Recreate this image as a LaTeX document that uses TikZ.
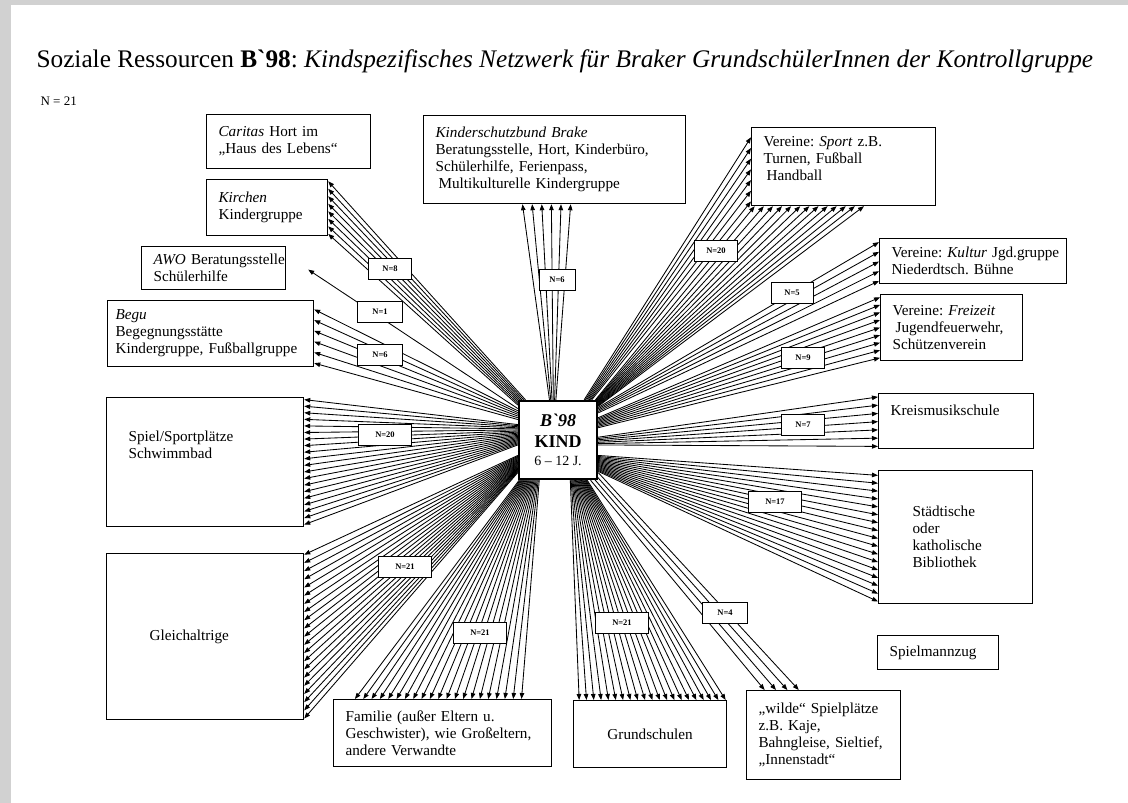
\documentclass[tikz,border=0pt]{standalone}
\usepackage{fontspec}
\setmainfont{Liberation Serif}
\usetikzlibrary{arrows.meta,calc,backgrounds}
\frenchspacing
\hyphenpenalty=10000

\definecolor{framegray}{gray}{0.82}

% N rays from a stretch of the child box to a stretch of one edge of a target box
\newcommand\fan[8]{%
  \foreach \k in {1,...,#1}{%
    \pgfmathsetmacro\fr{(\k-1)/(#1-1)}%
    \pgfmathsetmacro\ft{#7+(#8-#7)*\fr}%
    \draw[ray] ($(kind.#2)!\fr!(kind.#3)$) -- ($(#4.#5)!\ft!(#4.#6)$);
  }%
}

\begin{document}
\begin{tikzpicture}
            [x=1pt, y=-1pt,
             box/.style={draw, fill=white, line width=1.2pt, anchor=north west, align=left,
               inner xsep=12pt, inner ysep=2pt, font=\fontsize{15.2}{17}\selectfont},
             count/.style={draw, fill=white, line width=0.9pt, minimum width=43pt,
               minimum height=21pt, inner sep=1pt, font=\fontsize{8.5}{9}\selectfont\bfseries},
             ray/.style={line width=0.85pt, -{Triangle[length=6pt,width=4.5pt]}}]
            \useasboundingbox (0,0) rectangle (1128,803);

            % Title and sample size
            \node[anchor=base west, font=\fontsize{25.3}{30}\selectfont] (title) at (33,67)
              {Soziale Ressourcen \textbf{B\textasciigrave 98}: \textit{Kindspezifisches Netzwerk für Braker GrundschülerInnen der Kontrollgruppe}};
            \node[anchor=base west, font=\fontsize{13}{15}\selectfont] (size) at (37,105) {N = 21};

            % The child in the middle
            \node[draw, fill=white, line width=2.4pt, minimum size=78pt, inner sep=0pt, align=center,
                  font=\fontsize{18}{21}\selectfont] (kind) at (558,440)
              {\textbf{\textit{B\textasciigrave 98}}\\
               \textbf{KIND}\\[-3pt]
               {\fontsize{14}{16}\selectfont 6 -- 12 J.}};

            % Left side
            \node[box, text width=140pt, minimum height=54pt] (caritas) at (206,114) {\textit{Caritas} Hort im\\ „Haus des Lebens“};
            \node[box, text width=97pt, minimum height=56pt] (kirchen) at (206,179) {\textit{Kirchen}\\ Kindergruppe};
            \node[box, text width=120pt, minimum height=43pt] (awo) at (141,246) {\textit{AWO}~Beratungsstelle\\ Schülerhilfe};
            \node[box, inner xsep=8pt, text width=190pt, minimum height=66pt] (begu) at (107,300) {\textit{Begu}\\ Begegnungsstätte\\ Kindergruppe,~Fußballgruppe};
            \node[box, inner xsep=22pt, text width=153pt, minimum height=129pt] (spiel) at (106,397) {Spiel/Sportplätze\\ Schwimmbad\\ \mbox{}\\ \mbox{}};
            \node[box, inner xsep=43pt, text width=111pt, minimum height=166pt] (gleich) at (106,553) {Gleichaltrige};

            % Top
            \node[box, text width=238pt, minimum height=88pt] (ksb) at (423,115)
              {\textit{Kinderschutzbund Brake}\\ Beratungsstelle, Hort, Kinderbüro,\\ Schülerhilfe, Ferienpass,\\ \hspace*{3pt}Multikulturelle~Kindergruppe};

            % Right side
            \node[box, text width=160pt, minimum height=78pt] (sport) at (751,127) {Vereine: \textit{Sport} z.B.\\ Turnen, Fußball\\ \hspace*{3pt}Handball\\ \mbox{}};
            \node[box, text width=163pt, minimum height=45pt] (kultur) at (879,238) {Vereine:~\textit{Kultur}~Jgd.gruppe\\ Niederdtsch. Bühne};
            \node[box, text width=118pt, minimum height=66pt] (freizeit) at (880,294) {Vereine: \textit{Freizeit}\\ \hspace*{3pt}Jugendfeuerwehr,\\ Schützenverein};
            \node[box, text width=131pt, minimum height=55pt] (musik) at (878,393) {Kreismusikschule\\[4pt]\mbox{}};
            \node[box, inner xsep=34pt, text width=86pt, minimum height=133pt] (biblio) at (878,470) {Städtische\\ oder\\ katholische\\ Bibliothek};
            \node[box, text width=97pt, minimum height=34pt] (spielmann) at (877,635) {Spielmannzug};

            % Bottom
            \node[box, text width=194pt, minimum height=67pt] (familie) at (333,699) {Familie (außer Eltern u.\\ Geschwister),~wie~Großeltern,\\ andere Verwandte};
            \node[box, align=center, text width=129pt, minimum height=67pt] (grund) at (573,700) {Grundschulen};
            \node[box, text width=130pt, minimum height=89pt] (wilde) at (746,690) {„wilde“ Spielplätze\\ z.B. Kaje,\\ Bahngleise,~Sieltief,\\ „Innenstadt“};

            \coordinate (awotip) at ($(awo.east)+(22,1.5)$);

            % Rays under everything else
            \begin{pgfonlayer}{background}
              \fill[framegray] (0,0) rectangle (1128,803);
              \fill[white] (11,5) rectangle (1128,803);
              \fan{8}{129}{139}{kirchen}{north east}{south east}{0.04}{0.96}
              \draw[ray] (kind.142) -- (awotip);
              \fan{6}{144}{153}{begu}{north east}{south east}{0.14}{0.94}
              \fan{20}{159}{187}{spiel}{north east}{south east}{0.02}{0.98}
              \fan{21}{201}{219}{gleich}{north east}{south east}{0.01}{0.99}
              \fan{21}{226}{245}{familie}{north west}{north east}{0.10}{0.86}
              \fan{21}{287}{306}{grund}{north west}{north east}{0.04}{0.99}
              \fan{4}{309}{321}{wilde}{north west}{north east}{0.12}{0.34}
              \fan{17}{339}{322}{biblio}{north west}{south west}{0.04}{0.98}
              \fan{7}{4}{353}{musik}{north west}{south west}{0.07}{0.95}
              \fan{9}{29}{17}{freizeit}{north west}{south west}{0.05}{0.95}
              \fan{5}{39}{34}{kultur}{north west}{south west}{0.09}{0.93}
              \fan{7}{57}{50}{sport}{north west}{south west}{0.13}{0.94}
              \fan{13}{47}{40}{sport}{south west}{south east}{0.02}{0.61}
              \fan{6}{102}{93}{ksb}{south west}{south east}{0.378}{0.561}
            \end{pgfonlayer}

            % Counts on the rays
            \node[count] (c-kirchen) at (390,269) {N=8};
            \node[count, minimum width=45pt] (c-awo) at (380,312) {N=1};
            \node[count, minimum width=45pt] (c-begu) at (380,355) {N=6};
            \node[count, minimum width=53pt] (c-spiel) at (385,435) {N=20};
            \node[count, minimum width=53pt] (c-gleich) at (405,567) {N=21};
            \node[count, minimum width=53pt] (c-familie) at (480,633) {N=21};
            \node[count, minimum width=53pt] (c-grund) at (622,623) {N=21};
            \node[count, minimum width=45pt] (c-wilde) at (725,613) {N=4};
            \node[count, minimum width=53pt] (c-biblio) at (775,502) {N=17};
            \node[count] (c-musik) at (803,425) {N=7};
            \node[count] (c-freizeit) at (803,358) {N=9};
            \node[count, minimum width=42pt] (c-kultur) at (792,293) {N=5};
            \node[count] (c-sport) at (716,251) {N=20};
            \node[count, minimum width=36pt] (c-ksb) at (557,280) {N=6};
        \end{tikzpicture}
\end{document}
